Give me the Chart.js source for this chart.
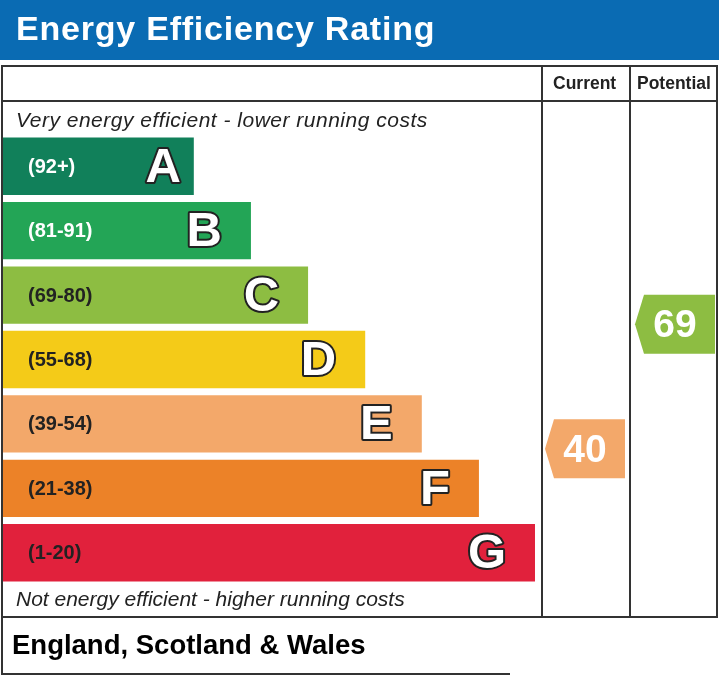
<!DOCTYPE html>
<html>
<head>
<meta charset="utf-8">
<script src="https://cdn.jsdelivr.net/npm/chart.js@4/dist/chart.umd.min.js"></script>
<style>
  body { margin: 0; background: #fff; font-family: "Liberation Sans", Arial, sans-serif; }
  #wrap { position: relative; width: 719px; height: 675px; overflow: hidden; }
  #chart { position: absolute; left: 0; top: 0; }
  .txt { position: absolute; white-space: nowrap; line-height: 1; }
  #head { position: absolute; left: 0; top: 0; width: 719px; height: 60px; background: #0a6bb3; }
  #title { left: 16px; top: 11px; font-size: 34px; letter-spacing: 0.78px; font-weight: bold; color: #fff; }
  .col { top: 75px; font-size: 17.5px; font-weight: bold; color: #222; }
  .note { left: 16px; font-size: 21px; font-style: italic; color: #222; }
  #foot { left: 12px; top: 631px; font-size: 27.5px; font-weight: bold; color: #000; }
</style>
</head>
<body>
<div id="wrap">
  <div id="head"></div>
  <canvas id="chart" width="719" height="675"></canvas>
  <div class="txt" id="title">Energy Efficiency Rating</div>
  <div class="txt col" style="left:553px">Current</div>
  <div class="txt col" style="left:637px">Potential</div>
  <div class="txt note" style="top:109px; letter-spacing:0.5px">Very energy efficient - lower running costs</div>
  <div class="txt note" style="top:588px">Not energy efficient - higher running costs</div>
  <div class="txt" id="foot">England, Scotland &amp; Wales</div>
</div>
<script>
// bands, top (best) to bottom
const bandLetters = ['A', 'B', 'C', 'D', 'E', 'F', 'G'];
const bandRanges = ['(92+)', '(81-91)', '(69-80)', '(55-68)', '(39-54)', '(21-38)', '(1-20)'];
const bandLow = [92, 81, 69, 55, 39, 21, 1];
const bandHigh = [100, 91, 80, 68, 54, 38, 20];
const bandLength = [35.4, 46.0, 56.6, 67.2, 77.7, 88.3, 98.7];
const bandColors = ['#11805a', '#23a556', '#8dbd42', '#f4cb18', '#f3a86a', '#ec8228', '#e1213c'];
const bandTextColors = ['#fff', '#fff', '#222', '#222', '#222', '#222', '#222'];

const currentScore = 40;
const potentialScore = 69;

// score -> fractional row on the category axis
function scoreRow(score) {
    for (let i = 0; i < bandLow.length; i++) {
        if (score >= bandLow[i]) {
            const f = (bandHigh[i] - score) / (bandHigh[i] - bandLow[i]);
            return i - 0.5 + f;
        }
    }
    return bandLow.length - 1;
}

function bandIndex(score) {
    for (let i = 0; i < bandLow.length; i++) if (score >= bandLow[i]) return i;
    return bandLow.length - 1;
}

const COL1 = 542, COL2 = 630, RIGHT = 717;

const epcPlugin = {
    id: 'epc',
    beforeDraw(chart) {
        const c = chart.ctx;
        c.save();
        c.strokeStyle = '#333';
        c.lineWidth = 2;
        // frame
        c.strokeRect(2, 66, RIGHT - 2, 551);
        c.beginPath();
        c.moveTo(2, 101); c.lineTo(RIGHT, 101);
        c.moveTo(COL1, 66); c.lineTo(COL1, 617);
        c.moveTo(COL2, 66); c.lineTo(COL2, 617);
        c.stroke();
        // footer box
        c.beginPath();
        c.moveTo(2, 617); c.lineTo(2, 674); c.lineTo(510, 674);
        c.stroke();
        c.restore();
    },
    afterDatasetsDraw(chart) {
        const c = chart.ctx;
        const meta = chart.getDatasetMeta(0);
        const yScale = chart.scales.y;
        c.save();
        meta.data.forEach((bar, i) => {
            // range label
            c.font = 'bold 20px "Liberation Sans", Arial, sans-serif';
            c.textBaseline = 'middle';
            c.textAlign = 'left';
            c.fillStyle = bandTextColors[i];
            c.fillText(bandRanges[i], 28, bar.y + 1);
            // big letter
            c.font = 'bold 49px "Liberation Sans", Arial, sans-serif';
            c.textAlign = 'right';
            c.lineJoin = 'round';
            c.lineWidth = 4;
            c.strokeStyle = '#222';
            const lx = bar.x - (i === 0 ? 13 : 29);
            c.strokeText(bandLetters[i], lx, bar.y + 2);
            c.fillStyle = '#fff';
            c.fillText(bandLetters[i], lx, bar.y + 2);
        });
        // rating arrows
        const arrows = [[currentScore, COL1 + 3, COL1 + 83], [potentialScore, COL2 + 5, COL2 + 85]];
        arrows.forEach(([score, x0, x1]) => {
            const yc = yScale.getPixelForValue(scoreRow(score)) - 3;
            const h = 59;
            c.fillStyle = bandColors[bandIndex(score)];
            c.beginPath();
            c.moveTo(x0, yc);
            c.lineTo(x0 + 9, yc - h / 2);
            c.lineTo(x1, yc - h / 2);
            c.lineTo(x1, yc + h / 2);
            c.lineTo(x0 + 9, yc + h / 2);
            c.closePath();
            c.fill();
            c.font = 'bold 39px "Liberation Sans", Arial, sans-serif';
            c.textAlign = 'center';
            c.textBaseline = 'middle';
            c.fillStyle = '#fff';
            c.fillText(String(score), (x0 + x1) / 2, yc + 2);
        });
        c.restore();
    }
};

new Chart(document.getElementById('chart'), {
    type: 'bar',
    data: {
        labels: bandLetters,
        datasets: [{
            data: bandLength,
            backgroundColor: bandColors,
            borderWidth: 0,
            barPercentage: 0.89,
            categoryPercentage: 1
        }]
    },
    options: {
        indexAxis: 'y',
        responsive: false,
        animation: false,
        devicePixelRatio: 1,
        layout: { padding: { left: 3, right: 719 - COL1, top: 134, bottom: 675 - 585 } },
        plugins: { legend: { display: false }, tooltip: { enabled: false } },
        scales: {
            x: { display: false, min: 0, max: 100 },
            y: { display: false }
        }
    },
    plugins: [epcPlugin]
});
</script>
</body>
</html>
